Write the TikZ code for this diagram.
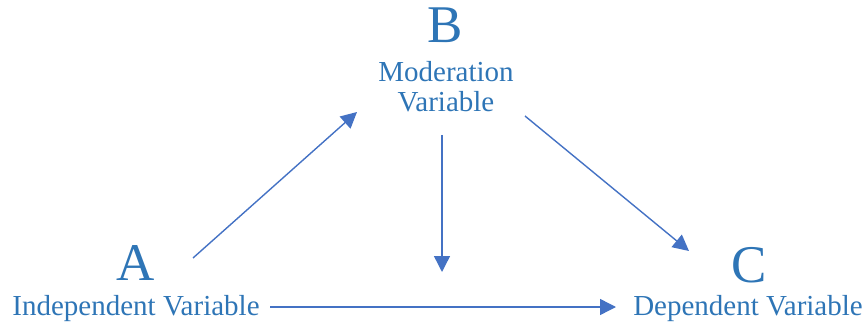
\documentclass[tikz,border=0pt]{standalone}
\usepackage{fontspec}
\setmainfont{Liberation Serif}
\usetikzlibrary{
    positioning,              % Required for "below=of"
    arrows.meta               % Required for Triangle arrowheads
}
\definecolor{textblue}{RGB}{46,117,182}
\definecolor{arrowblue}{RGB}{68,114,196}

\begin{document}
\begin{tikzpicture}[
        x=1pt, y=-1pt,
        % Styles
        bigletter/.style={inner sep=0pt, anchor=base, text=textblue, font=\fontsize{53}{53}\selectfont},
        varlabel/.style={inner sep=0pt, anchor=base, text=textblue, align=center, font=\fontsize{29}{30}\selectfont},
        link arrow/.style={-{Triangle[length=16pt, width=16pt]}, line width=1.4pt, arrowblue}
    ]
    \useasboundingbox (0,0) rectangle (868,326);

    % --- Letters ---
    \node[bigletter] (letterA) at (136,280) {A};
    \node[bigletter] (letterB) at (445,43) {B};
    \node[bigletter] (letterC) at (749,282) {C};

    % --- Variable names (base = last line) ---
    \node[varlabel] (labelA) at (136,315) {Independent Variable};
    \node[varlabel] (labelB) at (446,112) {Moderation\\Variable};
    \node[varlabel] (labelC) at (748,315) {Dependent Variable};

    % --- Arrow ends ---
    \coordinate (AtoBstart) at (193,258);
    \coordinate (AtoBend) at (357,112);
    \coordinate (BtoCstart) at (525,116);
    \coordinate (BtoCend) at (689,251);
    \coordinate (modstart) at (442,135);
    \coordinate (modend) at (442,272);
    \coordinate (AtoCstart) at (270,307);
    \coordinate (AtoCend) at (616,307);

    % --- Arrows ---
    \draw[link arrow] (AtoBstart) -- (AtoBend);
    \draw[link arrow] (BtoCstart) -- (BtoCend);
    \draw[link arrow] (modstart) -- (modend);
    \draw[link arrow] (AtoCstart) -- (AtoCend);

\end{tikzpicture}
\end{document}
